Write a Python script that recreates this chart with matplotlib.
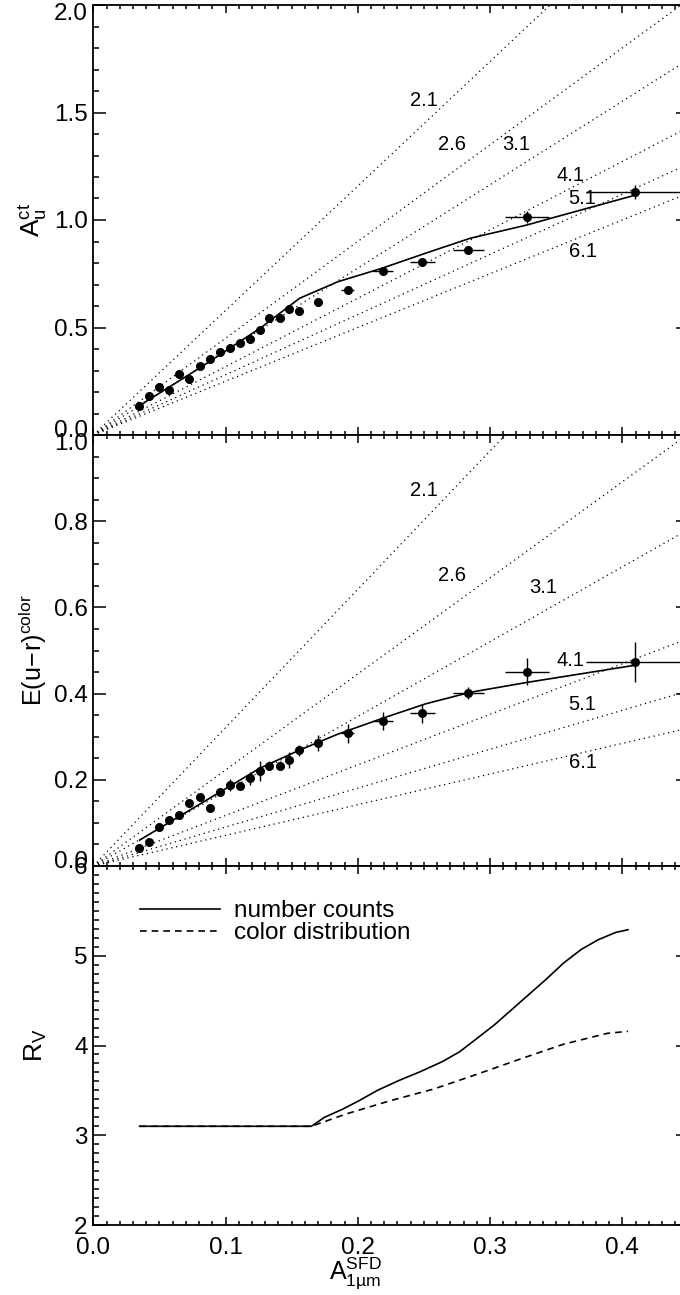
import numpy as np
import matplotlib
matplotlib.use("Agg")
import matplotlib.pyplot as plt
from matplotlib.ticker import MultipleLocator
from matplotlib.transforms import ScaledTranslation

plt.rcParams['font.family'] = ['Liberation Sans', 'DejaVu Sans']
plt.rcParams['mathtext.default'] = 'regular'
plt.rcParams['mathtext.fontset'] = 'custom'
plt.rcParams['mathtext.rm'] = 'Liberation Sans'

# binned A_1um (SFD) values
a1um = [0.0348, 0.0424, 0.0499, 0.0575, 0.0650, 0.0726, 0.0807, 0.0882, 0.0958,
        0.1034, 0.1109, 0.1185, 0.1261, 0.1327, 0.1412, 0.1482, 0.1558, 0.1697,
        0.1924, 0.2193, 0.2489, 0.2836, 0.3279, 0.4095]
a1um_err = [0, 0, 0, 0, 0, 0, 0, 0, 0, 0, 0, 0, 0, 0, 0, 0, 0, 0,
            0.005, 0.0075, 0.0093, 0.0115, 0.0164, 0.037]

# top panel: A_u from counts
au_ct = [0.135, 0.181, 0.223, 0.209, 0.282, 0.260, 0.319, 0.353, 0.386, 0.406,
         0.426, 0.446, 0.487, 0.546, 0.546, 0.588, 0.577, 0.619, 0.674, 0.764,
         0.805, 0.860, 1.014, 1.129]
au_ct_err = [0.005, 0.005, 0.005, 0.005, 0.005, 0.005, 0.005, 0.005, 0.005, 0.005,
             0.005, 0.005, 0.006, 0.006, 0.006, 0.006, 0.006, 0.007, 0.012, 0.019,
             0.010, 0.017, 0.030, 0.033]
fit_ct_x = [0.035, 0.080, 0.126, 0.156, 0.185, 0.218, 0.251, 0.285, 0.328, 0.346, 0.410]
fit_ct_y = [0.137, 0.310, 0.496, 0.636, 0.713, 0.775, 0.845, 0.915, 0.977, 1.008, 1.116]
slopes_ct = [5.79, 4.50, 3.88, 3.18, 2.80, 2.50]

# middle panel: E(u-r) from colors
eur = [0.041, 0.055, 0.091, 0.107, 0.118, 0.147, 0.159, 0.135, 0.171, 0.189,
       0.186, 0.204, 0.220, 0.233, 0.233, 0.246, 0.268, 0.285, 0.308, 0.336,
       0.354, 0.401, 0.451, 0.473]
eur_err = [0.004, 0.004, 0.005, 0.005, 0.006, 0.006, 0.007, 0.007, 0.008, 0.014,
           0.010, 0.015, 0.023, 0.010, 0.010, 0.019, 0.012, 0.019, 0.022, 0.021,
           0.022, 0.014, 0.032, 0.046]
fit_col_x = [0.035, 0.126, 0.156, 0.185, 0.218, 0.251, 0.285, 0.328, 0.410]
fit_col_y = [0.060, 0.227, 0.269, 0.306, 0.342, 0.376, 0.403, 0.426, 0.466]
slopes_col = [3.21, 2.228, 1.735, 1.173, 0.903, 0.711]

rv_names = ['2.1', '2.6', '3.1', '4.1', '5.1', '6.1']
lab_x = [0.250, 0.271, 0.320, 0.361, 0.370, 0.370]
lab_y_ct = [1.558, 1.353, 1.353, 1.209, 1.101, 0.853]
lab_x_col = [0.250, 0.271, 0.340, 0.361, 0.370, 0.370]
lab_y_col = [0.872, 0.675, 0.646, 0.476, 0.374, 0.241]

# bottom panel: R_V
rv_ct_x = [0.035, 0.1649, 0.1748, 0.1885, 0.2016, 0.2148, 0.2311, 0.2475, 0.2639,
           0.2770, 0.2902, 0.3033, 0.3164, 0.3295, 0.3426, 0.3557, 0.3689, 0.3820,
           0.3951, 0.4043]
rv_ct = [3.10, 3.10, 3.20, 3.29, 3.39, 3.50, 3.61, 3.71, 3.82, 3.93, 4.08, 4.23,
         4.40, 4.57, 4.74, 4.92, 5.07, 5.18, 5.26, 5.29]
rv_col_x = [0.035, 0.1649, 0.1918, 0.2246, 0.2574, 0.2902, 0.3230, 0.3557, 0.3885, 0.4043]
rv_col = [3.10, 3.10, 3.24, 3.385, 3.515, 3.68, 3.85, 4.015, 4.135, 4.158]

W, H = 680, 1295
fig = plt.figure(figsize=(W / 100, H / 100), dpi=100)
left = 93.3 / W
width = (688.4 - 93.3) / W

def panel(top, bottom):
    return fig.add_axes([left, 1 - bottom / H, width, (bottom - top) / H])

ax1 = panel(5, 435)
ax2 = panel(435, 866)
ax3 = panel(866, 1225)

xline = np.array([0.0, 0.45])
for ax in (ax1, ax2, ax3):
    ax.set_xlim(0, 0.45)
    ax.xaxis.set_major_locator(MultipleLocator(0.1))
    ax.xaxis.set_minor_locator(MultipleLocator(0.01))
    ax.tick_params(which='both', direction='in', top=True, right=True,
                   labelsize=17.5, width=1.1)
    ax.tick_params(axis='x', which='major', length=6, pad=9)
    ax.tick_params(axis='x', which='minor', length=3)
    ax.tick_params(axis='y', which='major', length=9, pad=4)
    ax.tick_params(axis='y', which='minor', length=4.3)
    for s in ax.spines.values():
        s.set_linewidth(1.3)

# top panel
ax1.set_ylim(0, 2.0)
ax1.yaxis.set_minor_locator(MultipleLocator(0.1))
ax1.set_yticks([0, 0.5, 1.0, 1.5, 2.0])
ax1.set_yticklabels(['0.0', '0.5', '1.0', '1.5', '2.0'])
ax1.tick_params(labelbottom=False)
for k in slopes_ct:
    ax1.plot(xline, k * xline, color='k', lw=0.9, ls=(0, (1, 3)))
for x, y, name in zip(lab_x, lab_y_ct, rv_names):
    ax1.text(x, y, name, fontsize=14.5, ha='center', va='center')
ax1.plot(fit_ct_x, fit_ct_y, color='k', lw=1.2)
ax1.errorbar(a1um, au_ct, xerr=a1um_err, yerr=au_ct_err, fmt='o', color='k',
             ms=5.5, elinewidth=1, capsize=0)
ax1.set_ylabel(r'$\mathregular{A_u^{ct}}$', fontsize=19)
ax1.yaxis.set_label_coords(-0.074, 0.5)

# middle panel
ax2.set_ylim(0, 1.0)
ax2.yaxis.set_minor_locator(MultipleLocator(0.05))
ax2.set_yticks([0, 0.2, 0.4, 0.6, 0.8, 1.0])
ax2.set_yticklabels(['0.0', '0.2', '0.4', '0.6', '0.8', '1.0'])
ax2.tick_params(labelbottom=False)
for k in slopes_col:
    ax2.plot(xline, k * xline, color='k', lw=0.9, ls=(0, (1, 3)))
for x, y, name in zip(lab_x_col, lab_y_col, rv_names):
    ax2.text(x, y, name, fontsize=14.5, ha='center', va='center')
ax2.plot(fit_col_x, fit_col_y, color='k', lw=1.2)
ax2.errorbar(a1um, eur, xerr=a1um_err, yerr=eur_err, fmt='o', color='k',
             ms=5.5, elinewidth=1, capsize=0)
ax2.set_ylabel(r'$\mathregular{E(u\!-\!r)^{color}}$', fontsize=18)
ax2.yaxis.set_label_coords(-0.074, 0.5)

# bottom panel
ax3.set_ylim(2, 6)
ax3.yaxis.set_major_locator(MultipleLocator(1))
ax3.yaxis.set_minor_locator(MultipleLocator(0.1))
ax3.set_xticks([0, 0.1, 0.2, 0.3, 0.4])
ax3.set_xticklabels(['0.0', '0.1', '0.2', '0.3', '0.4'])
ax3.plot(rv_ct_x, rv_ct, color='k', lw=1.2, label='number counts')
ax3.plot(rv_col_x, rv_col, color='k', lw=1.2, ls=(0, (4, 3)), label='color distribution')
ax3.legend(loc='upper left', bbox_to_anchor=(0.0778, 0.905), frameon=False,
           fontsize=17.5, handlelength=3.3, handletextpad=0.6,
           borderpad=0, borderaxespad=0, labelspacing=0.0)
ax3.set_ylabel(r'$\mathregular{R_V}$', fontsize=19)
ax3.yaxis.set_label_coords(-0.074, 0.5)
ax3.set_xlabel(r'$\mathregular{A^{SFD}_{1µm}}$', fontsize=18)
ax3.xaxis.set_label_coords(0.441, -0.085)

# nudge the end labels of each y axis inwards, as in the original
for ax in (ax1, ax2, ax3):
    ticks = ax.yaxis.get_major_ticks()
    lo, hi = ticks[0].label1, ticks[-1].label1
    lo.set_transform(lo.get_transform() + ScaledTranslation(0, 5 / 72, fig.dpi_scale_trans))
    hi.set_transform(hi.get_transform() + ScaledTranslation(0, -5 / 72, fig.dpi_scale_trans))

fig.savefig('out.png', dpi=100)
